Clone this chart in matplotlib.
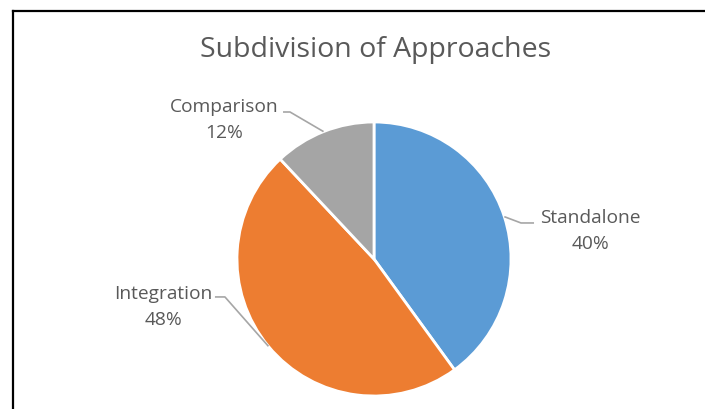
import numpy as np
import matplotlib
matplotlib.use("Agg")
import matplotlib.pyplot as plt
from matplotlib.lines import Line2D

# data
labels = ["Standalone", "Integration", "Comparison"]
shares = [40, 48, 12]
colors = ["#5B9BD5", "#ED7D31", "#A5A5A5"]

# label layout (data units, pie radius = 1)
label_pos = [(1.58, 0.21), (-1.54, -0.343), (-1.095, 1.022)]
elbows = [((1.073, 0.263), (1.168, 0.263)),
          ((-1.088, -0.277), (-1.161, -0.277)),
          ((-0.613, 1.073), (-0.664, 1.073))]

W, H = 705, 410
cx, cy, R = 374, 150, 137   # pie centre (px from bottom-left) and radius

plt.rcParams['font.family'] = ['Open Sans', 'DejaVu Sans']
fig = plt.figure(figsize=(W / 100, H / 100), dpi=100)
ax = fig.add_axes([0, 0, 1, 1])

wedges, _ = ax.pie(shares, colors=colors, startangle=90, counterclock=False,
                   radius=1, wedgeprops=dict(edgecolor='white', linewidth=2))
ax.set_xlim(-cx / R, (W - cx) / R)
ax.set_ylim(-cy / R, (H - cy) / R)
ax.set_aspect('equal')
ax.axis('off')

total = sum(shares)
start = 90.0
for i, (lab, val) in enumerate(zip(labels, shares)):
    span = 360.0 * val / total
    mid = np.deg2rad(start - span / 2)
    start -= span
    px, py = np.cos(mid), np.sin(mid)
    (ex1, ey1), (ex2, ey2) = elbows[i]
    ax.plot([px, ex1, ex2], [py, ey1, ey2], color='#A6A6A6', lw=1.2,
            solid_capstyle='butt')
    tx, ty = label_pos[i]
    ax.text(tx, ty, f"{lab}\n{val}%", ha='center', va='center',
            fontsize=13.8, color='#595959', linespacing=1.6)

fig.text(376 / W, 1 - 50 / H, "Subdivision of Approaches", ha='center',
         va='center', fontsize=20.5, color='#595959')

# frame lines (left and top)
fig.add_artist(Line2D([12.5 / W, 12.5 / W], [0, 1 - 11.5 / H],
                      color='black', lw=1.6, transform=fig.transFigure))
fig.add_artist(Line2D([12.5 / W, 1], [1 - 11.5 / H, 1 - 11.5 / H],
                      color='black', lw=1.6, transform=fig.transFigure))

fig.savefig("out.png", dpi=100, facecolor='white')
